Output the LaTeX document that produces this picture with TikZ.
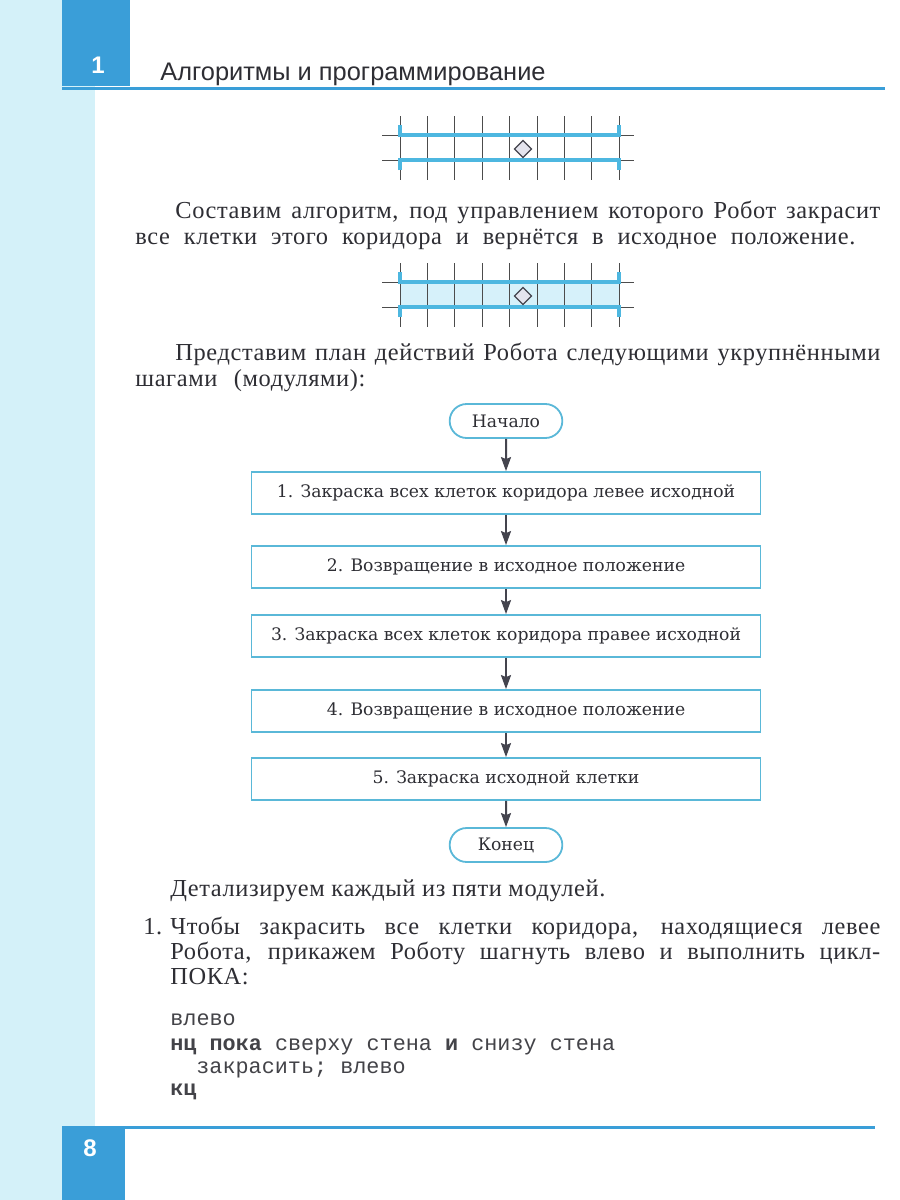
\documentclass[tikz,border=0pt]{standalone}
\usepackage{fontspec}
\setmainfont[LetterSpace=2.5]{Liberation Serif}
\setsansfont{Liberation Sans}
\setmonofont{Liberation Mono}
\newfontfamily\boxfont{DejaVu Serif}
\usetikzlibrary{arrows.meta,shapes.misc}
\definecolor{pagecyan}{HTML}{D4F1F9}
\definecolor{tabblue}{HTML}{3A9ED8}
\definecolor{wallblue}{HTML}{4DB7E0}
\definecolor{corridor}{HTML}{D6F1FA}
\definecolor{boxline}{HTML}{5AB8D8}
\definecolor{arrowgray}{HTML}{44444E}
\definecolor{inkgray}{HTML}{2E2E34}
\definecolor{robotfill}{HTML}{E4E4EE}
\newcommand{\bodyfont}{\rmfamily\fontsize{12.2}{13}\selectfont}
\newcommand{\codefont}{\ttfamily\fontsize{10.9}{12}\selectfont}

\begin{document}
\begin{tikzpicture}[x=0.5pt,y=-0.5pt,
    box/.style={draw=boxline,line width=0.9pt,fill=white,minimum width=254.5pt,minimum height=21pt,
      font=\boxfont\fontsize{8.6}{10}\selectfont,text=inkgray},
    term/.style={box,rounded rectangle,minimum width=63pt,minimum height=17pt},
    flow/.style={draw=arrowgray,line width=1pt,-{Stealth[length=7pt,width=5pt,inset=1pt]}},
    gridline/.style={draw=black!70,line width=0.5pt},
    wall/.style={draw=wallblue,line width=1.6pt},
    txt/.style={anchor=base west,inner sep=0pt,font=\bodyfont,text=inkgray},
    code/.style={txt,font=\codefont,text=inkgray!90}]
  \useasboundingbox (0,0) rectangle (900,1200);
  % Page and margin
  \fill[white] (0,0) rectangle (900,1200);
  \fill[pagecyan] (0,0) rectangle (95,1200);
  \fill[tabblue] (62,0) rectangle (130,86);
  \fill[tabblue] (62,1127) rectangle (125,1200);
  \draw[tabblue,line width=1.5pt] (62,88) -- (885,88);
  \draw[tabblue,line width=1.5pt] (62,1127) -- (875,1127);
  \node[anchor=base,text=white,font=\sffamily\bfseries\fontsize{12}{14}\selectfont] (chapter) at (98,73) {1};
  \node[anchor=base west,inner sep=0pt,text=inkgray,font=\sffamily\fontsize{12.7}{14}\selectfont] (title) at (160,80) {Алгоритмы и программирование};
  \node[anchor=base,text=white,font=\sffamily\bfseries\fontsize{12}{14}\selectfont] (pageno) at (90,1156) {8};
  % Corridor before painting
  \foreach \k in {0,...,8}
    \draw[gridline] (400+27.4*\k,116) -- (400+27.4*\k,180);
  \draw[gridline] (382,135) -- (634,135);
  \draw[gridline] (382,160) -- (634,160);
  \draw[wall] (400,125) -- (400,135) -- (619,135) -- (619,125);
  \draw[wall] (400,170) -- (400,160) -- (619,160) -- (619,170);
  \filldraw[fill=robotfill,draw=arrowgray,line width=0.6pt] (523,140.5) -- (531.5,149) -- (523,157.5) -- (514.5,149) -- cycle;
  % Corridor after painting
  \begin{scope}[shift={(0,147)}]
    \fill[corridor] (400,135) rectangle (619,160);
    \foreach \k in {0,...,8}
      \draw[gridline] (400+27.4*\k,116) -- (400+27.4*\k,180);
    \draw[gridline] (382,135) -- (634,135);
    \draw[gridline] (382,160) -- (634,160);
    \draw[wall] (400,125) -- (400,135) -- (619,135) -- (619,125);
    \draw[wall] (400,170) -- (400,160) -- (619,160) -- (619,170);
    \filldraw[fill=robotfill,draw=arrowgray,line width=0.6pt] (523,140.5) -- (531.5,149) -- (523,157.5) -- (514.5,149) -- cycle;
  \end{scope}
  % Text
  \node[txt] (intro1) at (175,218) {\makebox[352.5pt][s]{Составим алгоритм, под управлением которого Робот закрасит}};
  \node[txt] (intro2) at (135,244) {\makebox[360pt][s]{все клетки этого коридора и вернётся в исходное положение.}};
  \node[txt] (plan1) at (175,360) {\makebox[352.5pt][s]{Представим план действий Робота следующими укрупнёнными}};
  \node[txt] (plan2) at (135,386) {\makebox[115pt][s]{шагами (модулями):}};
  % Flowchart
  \node[term] (start) at (506,421) {Начало};
  \node[box] (step1) at (506,493) {1. Закраска всех клеток коридора левее исходной};
  \node[box] (step2) at (506,567) {2. Возвращение в исходное положение};
  \node[box] (step3) at (506,636) {3. Закраска всех клеток коридора правее исходной};
  \node[box] (step4) at (506,711) {4. Возвращение в исходное положение};
  \node[box] (step5) at (506,779) {5. Закраска исходной клетки};
  \node[term] (stop) at (506,845) {Конец};
  \draw[flow] (start) -- (step1);
  \draw[flow] (step1) -- (step2);
  \draw[flow] (step2) -- (step3);
  \draw[flow] (step3) -- (step4);
  \draw[flow] (step4) -- (step5);
  \draw[flow] (step5) -- (stop);
  % Details
  \node[txt] (detail) at (170,896) {\makebox[217.5pt][s]{Детализируем каждый из пяти модулей.}};
  \node[txt] (num1) at (143,934) {1.};
  \node[txt] (item1a) at (170,934) {\makebox[355pt][s]{Чтобы закрасить все клетки коридора, находящиеся левее}};
  \node[txt] (item1b) at (170,959) {\makebox[355pt][s]{Робота, прикажем Роботу шагнуть влево и выполнить цикл-}};
  \node[txt] (item1c) at (170,984) {ПОКА:};
  % Program
  \node[code] (prog1) at (170,1025) {влево};
  \node[code] (prog2) at (170,1050) {\textbf{нц пока} сверху стена \textbf{и} снизу стена};
  \node[code] (prog3) at (196,1073) {закрасить; влево};
  \node[code] (prog4) at (170,1095) {\textbf{кц}};
\end{tikzpicture}
\end{document}
